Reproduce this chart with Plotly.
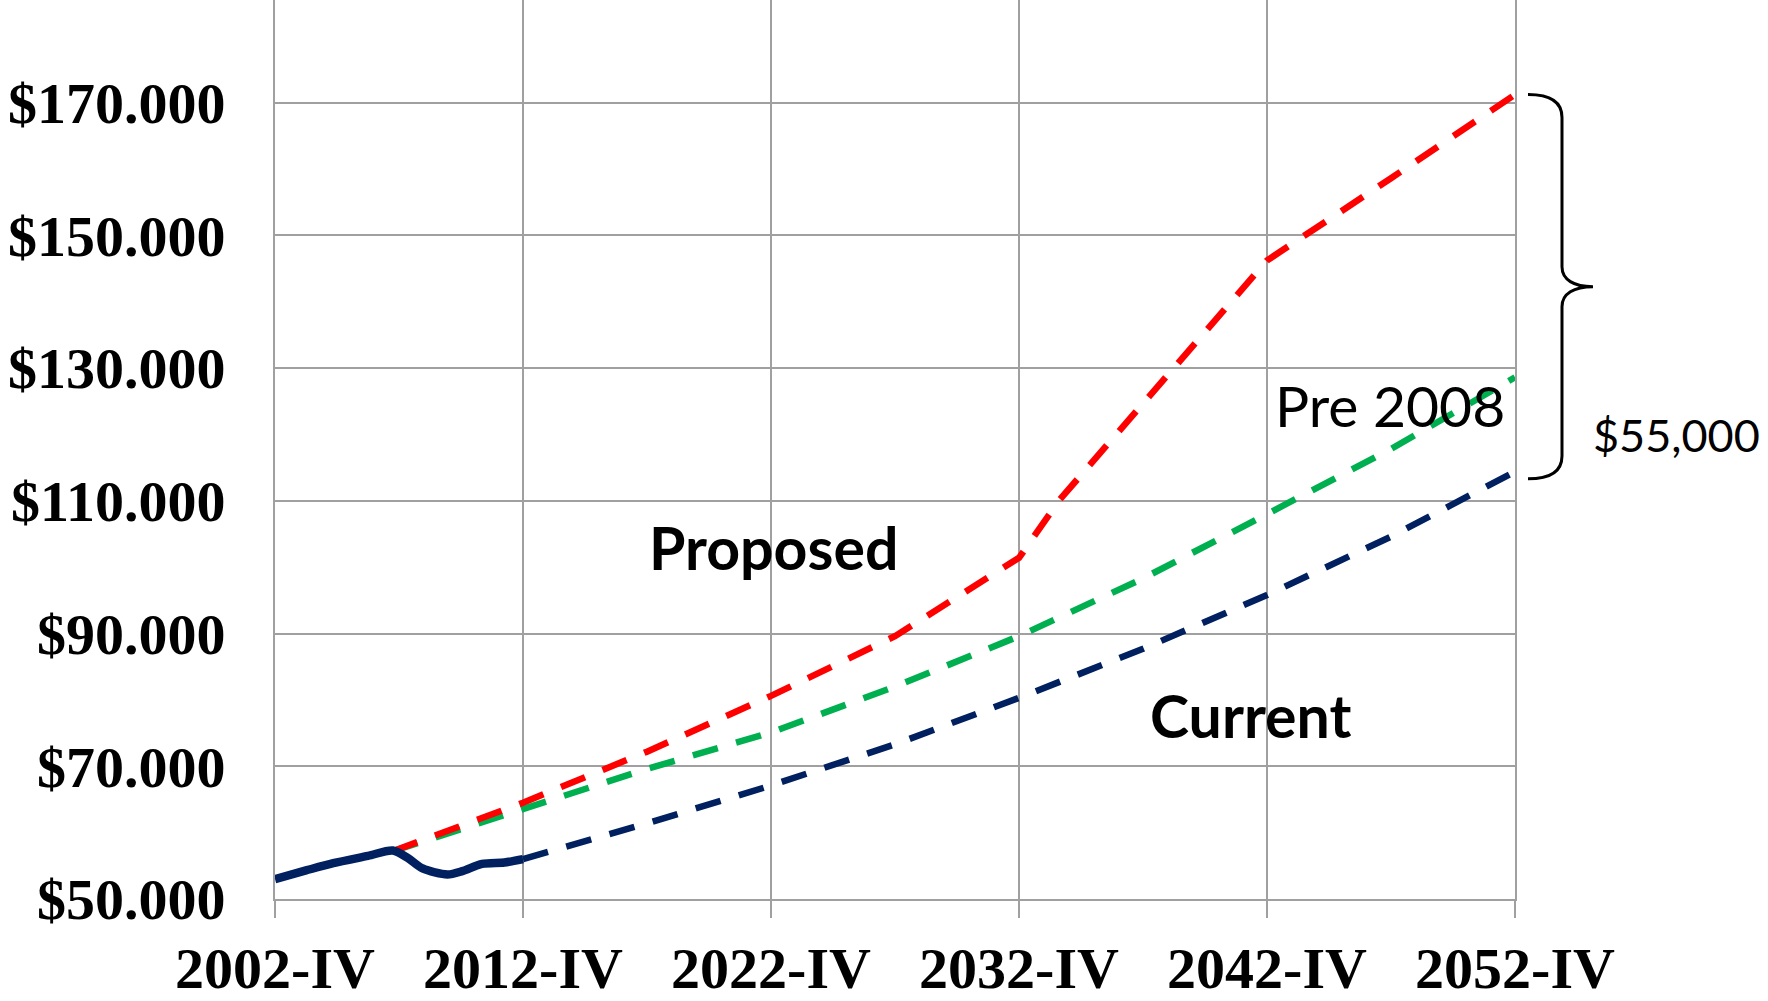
import plotly.graph_objects as go

# ---- data (values in $ thousands) ----
actual_years = [2002.75, 2004.0, 2005.1, 2006.5, 2007.5, 2008.1, 2008.7, 2009.7, 2010.3, 2011.1, 2012.0, 2012.75]
actual_vals = [53.0, 54.3, 55.4, 56.5, 57.3, 56.2, 54.6, 53.7, 54.2, 55.3, 55.5, 56.0]

proj_years_a = [2007.5, 2012.75, 2017.75, 2022.75, 2027.75, 2032.75, 2034.4, 2038.9, 2042.75, 2047.75, 2052.75]
proposed_vals = [57.2, 64.5, 72.2, 80.6, 89.6, 101.4, 110.2, 129.6, 146.2, 158.6, 171.2]

pre2008_years = [2007.5, 2012.75, 2017.75, 2022.75, 2027.75, 2032.75, 2037.75, 2042.75, 2047.75, 2052.75]
pre2008_vals = [57.2, 63.5, 69.6, 75.1, 82.0, 89.6, 98.3, 108.0, 117.8, 128.6]

current_years = [2012.75, 2017.75, 2022.75, 2027.75, 2032.75, 2037.75, 2042.75, 2047.75, 2052.75]
current_vals = [56.0, 61.4, 67.1, 73.3, 80.3, 87.7, 95.8, 104.6, 114.4]

x_tickvals = [2002.75, 2012.75, 2022.75, 2032.75, 2042.75, 2052.75]
x_ticktext = ["2002-IV", "2012-IV", "2022-IV", "2032-IV", "2042-IV", "2052-IV"]
y_tickvals = [50, 70, 90, 110, 130, 150, 170]
y_ticktext = ["$50.000", "$70.000", "$90.000", "$110.000", "$130.000", "$150.000", "$170.000"]

W, H = 1768, 1001
L, R, T, B = 275, 253, 0, 98
PW, PH = W - L - R, H - T - B

NAVY = "#002060"
RED = "#FF0000"
GREEN = "#00B050"
GRID = "#A0A0A0"
DASH = "26px,19px"

fig = go.Figure()
fig.add_trace(go.Scatter(x=pre2008_years, y=pre2008_vals, mode="lines",
                         line=dict(color=GREEN, width=6.5, dash=DASH)))
fig.add_trace(go.Scatter(x=proj_years_a, y=proposed_vals, mode="lines",
                         line=dict(color=RED, width=6.5, dash=DASH)))
fig.add_trace(go.Scatter(x=current_years, y=current_vals, mode="lines",
                         line=dict(color=NAVY, width=6.5, dash=DASH)))
fig.add_trace(go.Scatter(x=actual_years, y=actual_vals, mode="lines",
                         line=dict(color=NAVY, width=8.5, shape="spline", smoothing=0.8)))

# brace (pixel coords -> paper)
def px(x):
    return (x - L) / PW

def py(y):
    return (T + PH - y) / PH

pts = [
    ("M", [(1528, 95)]),
    ("C", [(1552, 95), (1562, 104), (1562, 118)]),
    ("L", [(1562, 268)]),
    ("C", [(1562, 281), (1574, 288), (1593, 288)]),
    ("C", [(1574, 288), (1562, 295), (1562, 308)]),
    ("L", [(1562, 458)]),
    ("C", [(1562, 472), (1552, 481), (1528, 481)]),
]
path = " ".join(cmd + " " + " ".join(f"{px(a):.5f},{py(b):.5f}" for a, b in p) for cmd, p in pts)
fig.add_shape(type="path", path=path, xref="paper", yref="paper",
              line=dict(color="black", width=3))

ann_font = "Lato, Open Sans, sans-serif"
fig.add_annotation(x=2022.85, y=102.9, text="<b>Proposed</b>", showarrow=False,
                   font=dict(family=ann_font, size=59, color="black"))
fig.add_annotation(x=2042.08, y=77.6, text="<b>Current</b>", showarrow=False,
                   font=dict(family=ann_font, size=59, color="black"))
fig.add_annotation(x=2047.71, y=124.5, text="Pre 2008", showarrow=False,
                   font=dict(family=ann_font, size=57, color="black"))
fig.add_annotation(x=px(1762), y=119.9, xref="paper", yref="y", xanchor="right",
                   text="$55,000", showarrow=False,
                   font=dict(family=ann_font, size=45, color="black"))

fig.update_layout(
    width=W, height=H,
    margin=dict(l=L, r=R, t=T, b=B),
    paper_bgcolor="white", plot_bgcolor="white",
    showlegend=False,
    font=dict(family="Liberation Serif, Times New Roman, serif", color="black"),
)
fig.update_xaxes(
    range=[2002.75, 2052.75], tickvals=x_tickvals, ticktext=x_ticktext,
    showgrid=True, gridcolor=GRID, gridwidth=2,
    zeroline=False, showline=True, linecolor=GRID, linewidth=2,
    ticks="outside", ticklen=17, tickwidth=2, tickcolor=GRID,
    tickfont=dict(family="Liberation Serif, Times New Roman, serif", size=58, color="black", weight="bold"),
)
fig.update_yaxes(
    range=[50, 185.45], tickvals=y_tickvals, ticktext=y_ticktext,
    showgrid=True, gridcolor=GRID, gridwidth=2,
    zeroline=False, showline=True, linecolor=GRID, linewidth=2, mirror=True,
    ticks="outside", ticklen=36, tickcolor="rgba(0,0,0,0)",
    tickfont=dict(family="Liberation Serif, Times New Roman, serif", size=58, color="black", weight="bold"),
)

fig.write_html("out.html")
